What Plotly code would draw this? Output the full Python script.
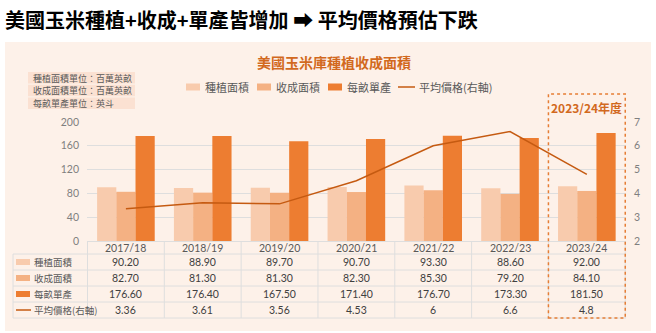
import plotly.graph_objects as go

categories = ["2017/18", "2018/19", "2019/20", "2020/21", "2021/22", "2022/23", "2023/24"]
planted = [90.20, 88.90, 89.70, 90.70, 93.30, 88.60, 92.00]
harvested = [82.70, 81.30, 81.30, 82.30, 85.30, 79.20, 84.10]
yield_bu = [176.60, 176.40, 167.50, 171.40, 176.70, 173.30, 181.50]
price = [3.36, 3.61, 3.56, 4.53, 6, 6.6, 4.8]
series_names = ["種植面積", "收成面積", "每畝單產", "平均價格(右軸)"]
unit_notes = ["種植面積單位：百萬英畝", "收成面積單位：百萬英畝", "每畝單產單位：英斗"]
left_ticks = [0, 40, 80, 120, 160, 200]
right_ticks = [2, 3, 4, 5, 6, 7]

C_PLANT = "#f8cbad"
C_HARV = "#f4b183"
C_YIELD = "#ed7d31"
C_LINE = "#c55a11"
C_ORANGE = "#d2691e"
FONT = "Noto Sans CJK TC"
NUMFONT = "Lato"
GRAY = "#595959"

W, H = 656, 333
L, R, T, B = 87, 626, 122, 241


def px(xp):
    return (xp - L) / (R - L)


def py(yp):
    return (B - yp) / (B - T)


fig = go.Figure()
fig.add_trace(go.Bar(x=categories, y=planted, name=series_names[0], marker_color=C_PLANT, marker_line_width=0))
fig.add_trace(go.Bar(x=categories, y=harvested, name=series_names[1], marker_color=C_HARV, marker_line_width=0))
fig.add_trace(go.Bar(x=categories, y=yield_bu, name=series_names[2], marker_color=C_YIELD, marker_line_width=0))
fig.add_trace(go.Scatter(x=categories, y=price, name=series_names[3], mode="lines",
                         line=dict(color=C_LINE, width=1.5), yaxis="y2"))

shapes = []
annotations = []

# panel background
shapes.append(dict(type="rect", xref="paper", yref="paper", x0=px(5), x1=px(651), y0=py(42), y1=py(331),
                   fillcolor="#fdf1e9", line_width=0, layer="below"))

# page title
annotations.append(dict(xref="paper", yref="paper", x=px(3), y=py(19), xanchor="left", yanchor="middle",
                        text="<b>美國玉米種植+收成+單產皆增加 ➡ 平均價格預估下跌</b>", showarrow=False,
                        font=dict(family=FONT, size=20, color="#000000")))
# chart title
annotations.append(dict(xref="paper", yref="paper", x=px(334), y=py(62), xanchor="center", yanchor="middle",
                        text="<b>美國玉米庫種植收成面積</b>", showarrow=False,
                        font=dict(family=FONT, size=14, color=C_ORANGE)))

# unit notes
for i, t in enumerate(unit_notes):
    yc = 78 + i * 12.8
    shapes.append(dict(type="rect", xref="paper", yref="paper", x0=px(28), x1=px(135), y0=py(yc - 6), y1=py(yc + 5.5),
                       fillcolor="#fbe1d2", line_width=0, layer="below"))
    annotations.append(dict(xref="paper", yref="paper", x=px(31), y=py(yc), xanchor="left", yanchor="middle",
                            text=t, showarrow=False, font=dict(family=FONT, size=9, color=GRAY)))

# legend
leg_x = [186, 257, 328, 398]
colors = [C_PLANT, C_HARV, C_YIELD]
for i in range(4):
    x0 = leg_x[i]
    if i < 3:
        shapes.append(dict(type="rect", xref="paper", yref="paper", x0=px(x0), x1=px(x0 + 14), y0=py(90.5), y1=py(83.5),
                           fillcolor=colors[i], line_width=0))
    else:
        shapes.append(dict(type="line", xref="paper", yref="paper", x0=px(x0), x1=px(x0 + 17), y0=py(87), y1=py(87),
                           line=dict(color=C_LINE, width=1.5)))
    annotations.append(dict(xref="paper", yref="paper", x=px(x0 + (17 if i < 3 else 19)), y=py(87),
                            xanchor="left", yanchor="middle", text=series_names[i], showarrow=False,
                            font=dict(family=FONT, size=11, color=GRAY)))

# data table
GRID = "#dedede"
row_top = 254
row_h = 16
rows = [planted, harvested, yield_bu, price]
n = len(categories)
# category labels row
for c, cat in enumerate(categories):
    annotations.append(dict(xref="x", yref="paper", x=cat, y=py(247.5), xanchor="center", yanchor="middle",
                            text=cat, showarrow=False, font=dict(family=NUMFONT, size=10.5, color=GRAY)))
# vertical lines
for k in range(n + 1):
    shapes.append(dict(type="line", xref="x", yref="paper", x0=k - 0.5, x1=k - 0.5, y0=py(B), y1=py(row_top + 4 * row_h),
                       line=dict(color=GRID, width=1)))
shapes.append(dict(type="line", xref="paper", yref="paper", x0=px(13), x1=px(13), y0=py(row_top), y1=py(row_top + 4 * row_h),
                   line=dict(color=GRID, width=1)))
# horizontal lines
for r in range(5):
    yy = row_top + r * row_h
    shapes.append(dict(type="line", xref="paper", yref="paper", x0=px(13), x1=px(R), y0=py(yy), y1=py(yy),
                       line=dict(color=GRID, width=1)))
for r, vals in enumerate(rows):
    yc = row_top + r * row_h + row_h / 2
    if r < 3:
        shapes.append(dict(type="rect", xref="paper", yref="paper", x0=px(16), x1=px(30), y0=py(yc + 3), y1=py(yc - 3),
                           fillcolor=colors[r], line_width=0))
    else:
        shapes.append(dict(type="line", xref="paper", yref="paper", x0=px(16), x1=px(31), y0=py(yc), y1=py(yc),
                           line=dict(color=C_LINE, width=1.5)))
    annotations.append(dict(xref="paper", yref="paper", x=px(32), y=py(yc), xanchor="left", yanchor="middle",
                            text=series_names[r], showarrow=False, font=dict(family=FONT, size=9.5, color=GRAY)))
    for c, v in enumerate(vals):
        txt = f"{v:.2f}" if r < 3 else f"{v:g}"
        annotations.append(dict(xref="x", yref="paper", x=categories[c], y=py(yc), xanchor="center", yanchor="middle",
                                text=txt, showarrow=False, font=dict(family=NUMFONT, size=10.5, color="#404040")))

# highlight box for 2023/24
shapes.append(dict(type="rect", xref="x", yref="paper", x0=n - 1.5, x1=n - 0.5, y0=py(318), y1=py(94),
                   line=dict(color="#e67e35", width=1.5, dash="dot"), fillcolor="rgba(0,0,0,0)"))
annotations.append(dict(xref="x", yref="paper", x=categories[-1], y=py(107.5), xanchor="center", yanchor="middle",
                        text="<b>2023/24年度</b>", showarrow=False, font=dict(family=FONT, size=12, color=C_ORANGE)))

fig.update_layout(
    width=W, height=H,
    margin=dict(l=L, r=W - R, t=T, b=H - B, pad=0),
    paper_bgcolor="#ffffff",
    plot_bgcolor="rgba(0,0,0,0)",
    barmode="group", bargap=0.25, bargroupgap=0,
    showlegend=False,
    font=dict(family=FONT, size=10, color="#7f7f7f"),
    xaxis=dict(type="category", showline=True, linecolor=GRID, ticks="", showgrid=False, showticklabels=False),
    yaxis=dict(range=[0, 200], tickvals=left_ticks, showgrid=True, gridcolor=GRID, zeroline=False,
               showline=False, ticks="", ticklabelstandoff=7,
               tickfont=dict(family=NUMFONT, size=10.5, color="#7f7f7f")),
    yaxis2=dict(range=[2, 7], tickvals=right_ticks, overlaying="y", side="right", showgrid=False,
                zeroline=False, showline=False, ticks="", ticklabelstandoff=7,
                tickfont=dict(family=NUMFONT, size=10.5, color="#7f7f7f")),
    shapes=shapes,
    annotations=annotations,
)

fig.write_html("out.html")
